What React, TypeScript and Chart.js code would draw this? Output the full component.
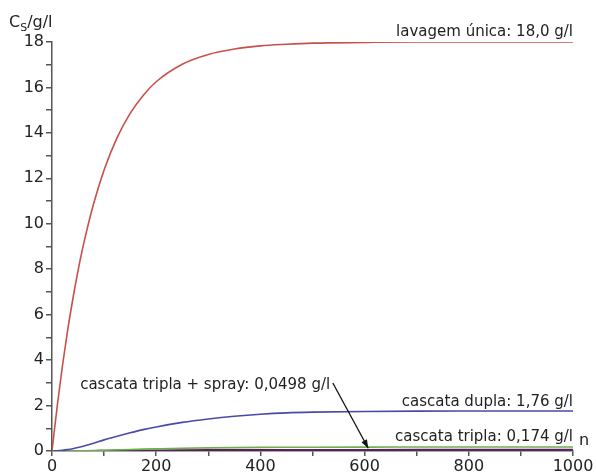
import React, { useEffect, useRef } from "react";
import { Chart, registerables } from "chart.js";

Chart.register(...registerables);

const nValues = [0, 10, 20, 30, 40, 50, 60, 80, 100, 125, 150, 175, 200, 250, 300, 350, 400, 450, 500, 600, 700, 800, 900, 1000];
const lavagemUnica = [0, 1.97, 3.74, 5.31, 6.69, 7.94, 9.04, 10.89, 12.37, 13.79, 14.86, 15.65, 16.25, 17.02, 17.45, 17.69, 17.83, 17.9, 17.95, 17.98, 18.0, 18.0, 18.0, 18.0];
const cascataDupla = [0, 0.01, 0.03, 0.06, 0.1, 0.15, 0.21, 0.34, 0.49, 0.65, 0.8, 0.94, 1.06, 1.26, 1.41, 1.53, 1.62, 1.68, 1.71, 1.74, 1.755, 1.76, 1.76, 1.76];
const cascataTripla = [0, 0.0005, 0.002, 0.004, 0.006, 0.009, 0.013, 0.022, 0.034, 0.05, 0.066, 0.081, 0.094, 0.118, 0.136, 0.149, 0.158, 0.164, 0.168, 0.172, 0.173, 0.174, 0.174, 0.174];
const cascataTriplaSpray = [0, 0.0001, 0.0003, 0.0006, 0.001, 0.0015, 0.002, 0.004, 0.007, 0.011, 0.016, 0.021, 0.026, 0.033, 0.039, 0.043, 0.046, 0.048, 0.049, 0.0495, 0.0497, 0.0498, 0.0498, 0.0498];

const seriesNames = ["lavagem única", "cascata dupla", "cascata tripla", "cascata tripla + spray"];
const seriesColors = ["#c9504a", "#4a4aa6", "#6cb04e", "#5a1f5a"];

const yTicks = [0, 2, 4, 6, 8, 10, 12, 14, 16, 18];
const xTicks = [0, 200, 400, 600, 800, 1000];

const labelTexts = ["lavagem única: 18,0 g/l", "cascata dupla: 1,76 g/l", "cascata tripla: 0,174 g/l", "cascata tripla + spray: 0,0498 g/l"];
// label anchors in data coords [n, C]
const labelAnchors: [number, number, string][] = [
  [1000, 18.45, "right"],
  [1000, 2.17, "right"],
  [1000, 0.6, "right"],
  [54, 2.9, "left"],
];
const arrowFrom: [number, number] = [539, 2.99];
const arrowTo: [number, number] = [607, 0.12];

const FONT = "'DejaVu Sans', Verdana, sans-serif";

const annotationPlugin = {
  id: "annot",
  afterDraw(chart: any) {
    const ctx = chart.ctx;
    const xs = chart.scales.x;
    const ys = chart.scales.y;
    ctx.save();
    ctx.fillStyle = "#222";
    ctx.font = `15px ${FONT}`;
    ctx.textBaseline = "middle";
    labelTexts.forEach((t, i) => {
      const [n, c, align] = labelAnchors[i];
      ctx.textAlign = align;
      ctx.fillText(t, xs.getPixelForValue(n), ys.getPixelForValue(c));
    });
    // arrow
    const x1 = xs.getPixelForValue(arrowFrom[0]);
    const y1 = ys.getPixelForValue(arrowFrom[1]);
    const x2 = xs.getPixelForValue(arrowTo[0]);
    const y2 = ys.getPixelForValue(arrowTo[1]);
    ctx.strokeStyle = "#111";
    ctx.lineWidth = 1.3;
    ctx.beginPath();
    ctx.moveTo(x1, y1);
    ctx.lineTo(x2, y2);
    ctx.stroke();
    const ang = Math.atan2(y2 - y1, x2 - x1);
    const hl = 9;
    ctx.fillStyle = "#111";
    ctx.beginPath();
    ctx.moveTo(x2, y2);
    ctx.lineTo(x2 - hl * Math.cos(ang - 0.35), y2 - hl * Math.sin(ang - 0.35));
    ctx.lineTo(x2 - hl * Math.cos(ang + 0.35), y2 - hl * Math.sin(ang + 0.35));
    ctx.closePath();
    ctx.fill();
    // axis titles
    ctx.fillStyle = "#222";
    ctx.textAlign = "left";
    ctx.textBaseline = "alphabetic";
    ctx.font = `16px ${FONT}`;
    let px = 9;
    const py = 27;
    ctx.fillText("C", px, py);
    px += ctx.measureText("C").width;
    ctx.font = `11px ${FONT}`;
    ctx.fillText("S", px, py + 4);
    px += ctx.measureText("S").width;
    ctx.font = `16px ${FONT}`;
    ctx.fillText("/g/l", px, py);
    ctx.font = `16px ${FONT}`;
    ctx.fillText("n", xs.right + 6, ys.bottom - 6);
    ctx.restore();
  },
};

export default function App() {
  const ref = useRef<HTMLCanvasElement>(null);
  useEffect(() => {
    if (!ref.current) return;
    const datasets = [lavagemUnica, cascataDupla, cascataTripla, cascataTriplaSpray].map((arr, i) => ({
      label: seriesNames[i],
      data: arr.map((v, j) => ({ x: nValues[j], y: v })),
      borderColor: seriesColors[i],
      backgroundColor: seriesColors[i],
      borderWidth: i === 3 ? 2 : 1.6,
      pointRadius: 0,
      cubicInterpolationMode: "monotone" as const,
      fill: false,
    }));
    const chart = new Chart(ref.current, {
      type: "line",
      data: { datasets },
      plugins: [annotationPlugin],
      options: {
        animation: false,
        responsive: false,
        layout: { padding: { top: 42, right: 23, left: 0, bottom: 0 } },
        plugins: { legend: { display: false }, tooltip: { enabled: false } },
        scales: {
          x: {
            type: "linear",
            min: 0,
            max: 1000,
            afterFit: (s: any) => { s.height = 24; },
            afterBuildTicks: (s: any) => {
              const t = [];
              for (let v = 0; v <= 1000; v += 100) t.push({ value: v });
              s.ticks = t;
            },
            ticks: {
              autoSkip: false,
              maxRotation: 0,
              padding: 1,
              color: "#222",
              font: { family: FONT, size: 16 },
              callback: (v: any) => (xTicks.includes(v) ? String(v) : ""),
            },
            grid: { drawOnChartArea: false, drawTicks: true, tickLength: 5, color: "#555", lineWidth: 1.5 },
            border: { color: "#555", width: 1.5 },
          },
          y: {
            type: "linear",
            min: 0,
            max: 18,
            afterFit: (s: any) => { s.width = 52; },
            afterBuildTicks: (s: any) => {
              const t = [];
              for (let v = 0; v <= 18; v += 1) t.push({ value: v });
              s.ticks = t;
            },
            ticks: {
              autoSkip: false,
              padding: 2,
              color: "#222",
              font: { family: FONT, size: 16 },
              callback: (v: any) => (yTicks.includes(v) ? String(v) : ""),
            },
            grid: { drawOnChartArea: false, drawTicks: true, tickLength: 6, color: "#555", lineWidth: 1.5 },
            border: { color: "#555", width: 1.5 },
          },
        },
      },
    });
    return () => chart.destroy();
  }, []);
  return (
    <div style={{ position: "fixed", left: 0, top: 0, width: 596, height: 475, background: "#fff" }}>
      <canvas ref={ref} width={596} height={475} style={{ display: "block" }} />
    </div>
  );
}
